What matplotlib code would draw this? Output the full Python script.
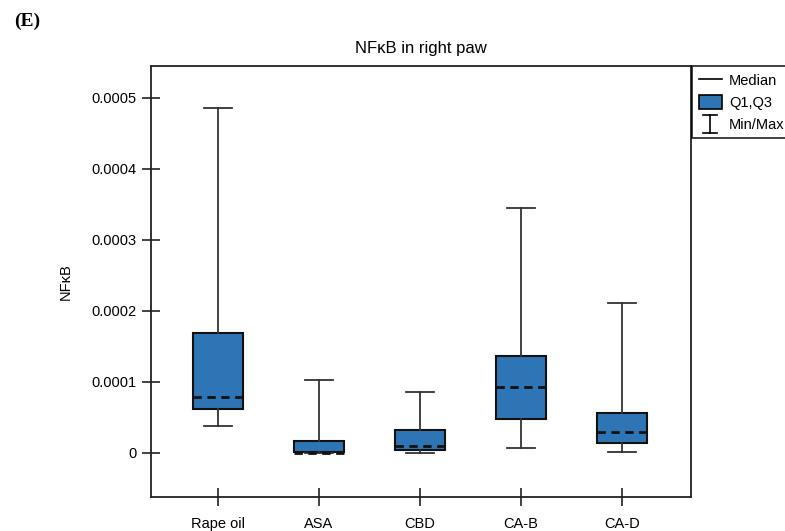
import matplotlib
matplotlib.use("Agg")
import matplotlib.pyplot as plt
from matplotlib.lines import Line2D
from matplotlib.patches import Patch
from matplotlib.legend_handler import HandlerBase

plt.rcParams['font.family'] = ['Liberation Sans', 'DejaVu Sans']

groups = ["Rape oil", "ASA", "CBD", "CA-B", "CA-D"]
mins = [0.38e-4, 0.0, 0.0, 0.075e-4, 0.015e-4]
q1s = [0.62e-4, 0.01e-4, 0.04e-4, 0.48e-4, 0.14e-4]
medians = [0.79e-4, 0.0, 0.10e-4, 0.93e-4, 0.30e-4]
q3s = [1.69e-4, 0.17e-4, 0.32e-4, 1.37e-4, 0.57e-4]
maxs = [4.86e-4, 1.03e-4, 0.86e-4, 3.45e-4, 2.11e-4]
yticks = [0, 0.0001, 0.0002, 0.0003, 0.0004, 0.0005]
ytick_labels = ["0", "0.0001", "0.0002", "0.0003", "0.0004", "0.0005"]

box_color = "#2E75B6"

fig = plt.figure(figsize=(7.85, 5.31), dpi=100)
ax = fig.add_axes([151/785, 1-497/531, 540/785, 431/531])

stats = []
for g, mn, a, m, b, mx in zip(groups, mins, q1s, medians, q3s, maxs):
    stats.append(dict(label=g, whislo=mn, q1=a, med=m, q3=b, whishi=mx, fliers=[]))

ax.bxp(stats, positions=range(1, len(groups)+1), widths=0.5, patch_artist=True,
       showfliers=False,
       boxprops=dict(facecolor=box_color, edgecolor="#111111", linewidth=1.5),
       medianprops=dict(color="#111111", linestyle=(0, (3, 2)), linewidth=2.0),
       whiskerprops=dict(color="#333333", linewidth=1.3),
       capprops=dict(color="#333333", linewidth=1.3),
       capwidths=0.27)

ax.set_xlim(0.337, 5.683)
ax.set_ylim(-0.000062, 0.000545)
ax.set_yticks(yticks)
ax.set_yticklabels(ytick_labels)
ax.tick_params(axis='both', direction='inout', length=13, width=1.2, color="#222222",
               labelsize=10.5, pad=4)
ax.tick_params(axis='x', pad=8)
for s in ax.spines.values():
    s.set_linewidth(1.3)
    s.set_color("#222222")
ax.set_ylabel("NFκB", fontsize=10.5, labelpad=13)
ax.set_title("NFκB in right paw", fontsize=12, pad=9)

class CapHandler(HandlerBase):
    def create_artists(self, legend, orig_handle, xdescent, ydescent, width, height, fontsize, trans):
        cx = width / 2 - xdescent
        y0 = -ydescent - 1
        y1 = height - ydescent + 1
        w = width * 0.3
        lines = [
            Line2D([cx, cx], [y0, y1], color="black", lw=1.2, transform=trans),
            Line2D([cx - w, cx + w], [y0, y0], color="black", lw=1.2, transform=trans),
            Line2D([cx - w, cx + w], [y1, y1], color="black", lw=1.2, transform=trans),
        ]
        return lines

cap_handle = Line2D([], [], color="black")
handles = [Line2D([], [], color="black", lw=1.2),
           Patch(facecolor=box_color, edgecolor="black", linewidth=1.2),
           cap_handle]
leg = fig.legend(handles, ["Median", "Q1,Q3", "Min/Max"],
                 loc="upper left", bbox_to_anchor=(692/785, 1-66/531),
                 frameon=True, fancybox=False, edgecolor="black", fontsize=10.5,
                 handler_map={cap_handle: CapHandler()}, borderaxespad=0,
                 handlelength=1.6, handleheight=1.2, labelspacing=0.45,
                 borderpad=0.45, handletextpad=0.5)
leg.get_frame().set_linewidth(1.3)

fig.text(14/785, 1-21/531, "(E)", fontsize=14, fontweight="bold",
         family=["Liberation Serif", "DejaVu Serif"], va="center", ha="left")

fig.savefig("out.png", dpi=100)
